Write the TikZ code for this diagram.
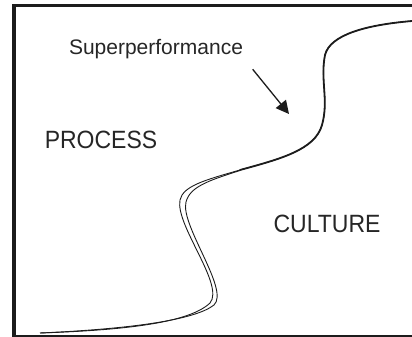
\documentclass[tikz,border=0pt]{standalone}
\usepackage{fontspec}
\setmainfont{Liberation Sans}
\newfontfamily\regionfont[FakeStretch=0.92]{Liberation Sans}
\usetikzlibrary{arrows.meta}
\definecolor{ink}{HTML}{1C1C1C}
\definecolor{txt}{HTML}{262626}
\tikzset{
  frameline/.style={draw=ink, line width=3.5pt},
  strand/.style={draw=ink, line width=0.9pt},
  boundary/.style={draw=ink, line width=1.8pt, line cap=round},
  region/.style={text=txt, inner sep=0pt, anchor=base, font=\regionfont\fontsize{25}{30}\selectfont},
  caption/.style={text=txt, inner sep=0pt, anchor=base, font=\fontsize{21}{25}\selectfont},
  pointer/.style={draw=ink, line width=1.3pt, -{Triangle[length=13pt,width=13pt]}}
}
\begin{document}
\begin{tikzpicture}[x=1pt,y=-1pt]
\useasboundingbox (0,0) rectangle (412,337);
% frame
\draw[frameline] (14,337) -- (14,5.7) -- (412,5.7);
\draw[draw=ink, line width=1.3pt] (14,336) -- (412,336);

% left strand of the boundary
\draw[strand] (40,333) .. controls (130,330) and (190,322) .. (210,303)
  .. controls (225,285) and (175,225) .. (180,200)
  .. controls (183,186) and (205,180) .. (240,170)
  .. controls (280,159) and (315,150) .. (322,125)
  .. controls (329,100) and (320,80) .. (325,55)
  .. controls (330,35) and (365,25) .. (412,21);
% right strand, joining the main line above the bend
\draw[strand] (40,333) .. controls (130,329) and (195,320) .. (214,305)
  .. controls (230,290) and (180,225) .. (186,202)
  .. controls (190,187) and (207,181) .. (240,170.5);
% single heavy boundary at the top
\draw[boundary] (240,170)
  .. controls (280,159) and (315,150) .. (322,125)
  .. controls (329,100) and (320,80) .. (325,55)
  .. controls (330,35) and (365,25) .. (412,21);

% labels
\node[caption] (sp) at (156,55) {Superperformance};
\node[region] (proc) at (101,148) {PROCESS};
\node[region] (cult) at (327,232) {CULTURE};

% pointer to the boundary
\coordinate (ptail) at (252.7,69.3);
\coordinate (phead) at (289,114);
\draw[pointer] (ptail) -- (phead);
\end{tikzpicture}
\end{document}
